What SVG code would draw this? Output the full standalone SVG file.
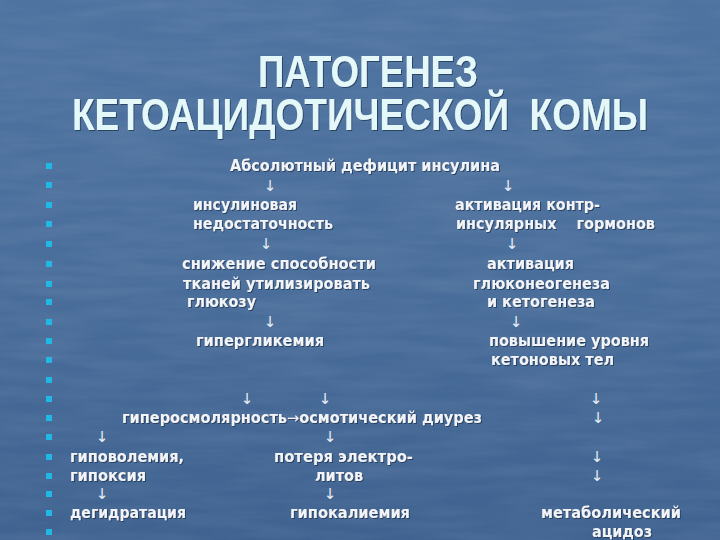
<svg xmlns="http://www.w3.org/2000/svg" width="720" height="540" viewBox="0 0 720 540">
<defs>
<linearGradient id="bg" x1="0" y1="0" x2="0" y2="1">
<stop offset="0" stop-color="#4e73a0"/>
<stop offset="0.5" stop-color="#4a6e9b"/>
<stop offset="1" stop-color="#3f6290"/>
</linearGradient>
<filter id="tex" x="0" y="0" width="100%" height="100%">
<feTurbulence type="fractalNoise" baseFrequency="0.012 0.09" numOctaves="3" seed="4"/>
<feColorMatrix values="0 0 0 0 0.85  0 0 0 0 0.9  0 0 0 0 1  0 0 0 0.35 -0.1"/>
</filter>
<filter id="sh" x="-5%" y="-20%" width="110%" height="140%">
<feDropShadow dx="1" dy="1" stdDeviation="0.6" flood-color="#1c2f4a" flood-opacity="0.7"/>
</filter>
<style>
.ti{font-family:"Liberation Sans",Arial,sans-serif;font-weight:bold;font-size:44px;fill:#e4f8fa}
.t{font-family:"DejaVu Sans",Verdana,sans-serif;font-weight:bold;font-size:15px;fill:#f2f4f7}
.a{font-family:"DejaVu Sans",sans-serif;font-size:15px;fill:#e8eef5;text-anchor:middle}
.b{fill:#22b8e6}
</style>
</defs>
<rect width="720" height="540" fill="url(#bg)"/>
<rect width="720" height="540" filter="url(#tex)" opacity="0.35"/>

<g id="title" filter="url(#sh)">
<text class="ti" x="258" y="87" textLength="220" lengthAdjust="spacingAndGlyphs">ПАТОГЕНЕЗ</text>
<text class="ti" x="72" y="130" textLength="576" lengthAdjust="spacingAndGlyphs" xml:space="preserve">КЕТОАЦИДОТИЧЕСКОЙ  КОМЫ</text>
</g>

<g id="bullets">
<rect class="b" x="46" y="163" width="6" height="6"/>
<rect class="b" x="46" y="182" width="6" height="6"/>
<rect class="b" x="46" y="202" width="6" height="6"/>
<rect class="b" x="46" y="221" width="6" height="6"/>
<rect class="b" x="46" y="241" width="6" height="6"/>
<rect class="b" x="46" y="261" width="6" height="6"/>
<rect class="b" x="46" y="281" width="6" height="6"/>
<rect class="b" x="46" y="299" width="6" height="6"/>
<rect class="b" x="46" y="319" width="6" height="6"/>
<rect class="b" x="46" y="338" width="6" height="6"/>
<rect class="b" x="46" y="357" width="6" height="6"/>
<rect class="b" x="46" y="377" width="6" height="6"/>
<rect class="b" x="46" y="396" width="6" height="6"/>
<rect class="b" x="46" y="415" width="6" height="6"/>
<rect class="b" x="46" y="434" width="6" height="6"/>
<rect class="b" x="46" y="454" width="6" height="6"/>
<rect class="b" x="46" y="473" width="6" height="6"/>
<rect class="b" x="46" y="491" width="6" height="6"/>
<rect class="b" x="46" y="510" width="6" height="6"/>
<rect class="b" x="46" y="529" width="6" height="6"/>
</g>

<g filter="url(#sh)">
<g id="n-deficit"><text class="t" x="230" y="171" textLength="270" lengthAdjust="spacingAndGlyphs">Абсолютный дефицит инсулина</text></g>
<g id="n-insuff">
<text class="t" x="193" y="210" textLength="104" lengthAdjust="spacingAndGlyphs">инсулиновая</text>
<text class="t" x="193" y="229" textLength="140" lengthAdjust="spacingAndGlyphs">недостаточность</text>
</g>
<g id="n-contra">
<text class="t" x="455" y="210" textLength="145" lengthAdjust="spacingAndGlyphs">активация контр-</text>
<text class="t" x="456" y="229" textLength="199" lengthAdjust="spacingAndGlyphs" xml:space="preserve">инсулярных    гормонов</text>
</g>
<g id="n-util">
<text class="t" x="182" y="269" textLength="194" lengthAdjust="spacingAndGlyphs">снижение способности</text>
<text class="t" x="183" y="289" textLength="187" lengthAdjust="spacingAndGlyphs">тканей утилизировать</text>
<text class="t" x="187" y="307" textLength="69" lengthAdjust="spacingAndGlyphs">глюкозу</text>
</g>
<g id="n-gluco">
<text class="t" x="487" y="269" textLength="87" lengthAdjust="spacingAndGlyphs">активация</text>
<text class="t" x="473" y="289" textLength="137" lengthAdjust="spacingAndGlyphs">глюконеогенеза</text>
<text class="t" x="487" y="307" textLength="108" lengthAdjust="spacingAndGlyphs">и кетогенеза</text>
</g>
<g id="n-hyperglyc"><text class="t" x="196" y="346" textLength="128" lengthAdjust="spacingAndGlyphs">гипергликемия</text></g>
<g id="n-ketone">
<text class="t" x="489" y="346" textLength="160" lengthAdjust="spacingAndGlyphs">повышение уровня</text>
<text class="t" x="491" y="365" textLength="123" lengthAdjust="spacingAndGlyphs">кетоновых тел</text>
</g>
<g id="n-osm"><text class="t" x="122" y="423" textLength="360" lengthAdjust="spacingAndGlyphs">гиперосмолярность<tspan font-weight="normal">→</tspan>осмотический диурез</text></g>
<g id="n-hypovol">
<text class="t" x="70" y="462" textLength="114" lengthAdjust="spacingAndGlyphs">гиповолемия,</text>
<text class="t" x="70" y="481" textLength="76" lengthAdjust="spacingAndGlyphs">гипоксия</text>
</g>
<g id="n-electro">
<text class="t" x="274" y="462" textLength="139" lengthAdjust="spacingAndGlyphs">потеря электро-</text>
<text class="t" x="315" y="481" textLength="48" lengthAdjust="spacingAndGlyphs">литов</text>
</g>
<g id="n-dehydr"><text class="t" x="70" y="518" textLength="116" lengthAdjust="spacingAndGlyphs">дегидратация</text></g>
<g id="n-hypokal"><text class="t" x="290" y="518" textLength="120" lengthAdjust="spacingAndGlyphs">гипокалиемия</text></g>
<g id="n-acidosis">
<text class="t" x="541" y="518" textLength="140" lengthAdjust="spacingAndGlyphs">метаболический</text>
<text class="t" x="592" y="537" textLength="60" lengthAdjust="spacingAndGlyphs">ацидоз</text>
</g>
</g>

<g id="connectors">
<text class="a" x="270" y="191">↓</text>
<text class="a" x="508" y="191">↓</text>
<text class="a" x="266" y="249">↓</text>
<text class="a" x="512" y="249">↓</text>
<text class="a" x="270" y="327">↓</text>
<text class="a" x="516" y="327">↓</text>
<text class="a" x="247" y="404">↓</text>
<text class="a" x="325" y="404">↓</text>
<text class="a" x="596" y="404">↓</text>
<text class="a" x="598" y="423">↓</text>
<text class="a" x="102" y="442">↓</text>
<text class="a" x="330" y="442">↓</text>
<text class="a" x="597" y="462">↓</text>
<text class="a" x="597" y="481">↓</text>
<text class="a" x="102" y="499">↓</text>
<text class="a" x="330" y="499">↓</text>
</g>
</svg>
